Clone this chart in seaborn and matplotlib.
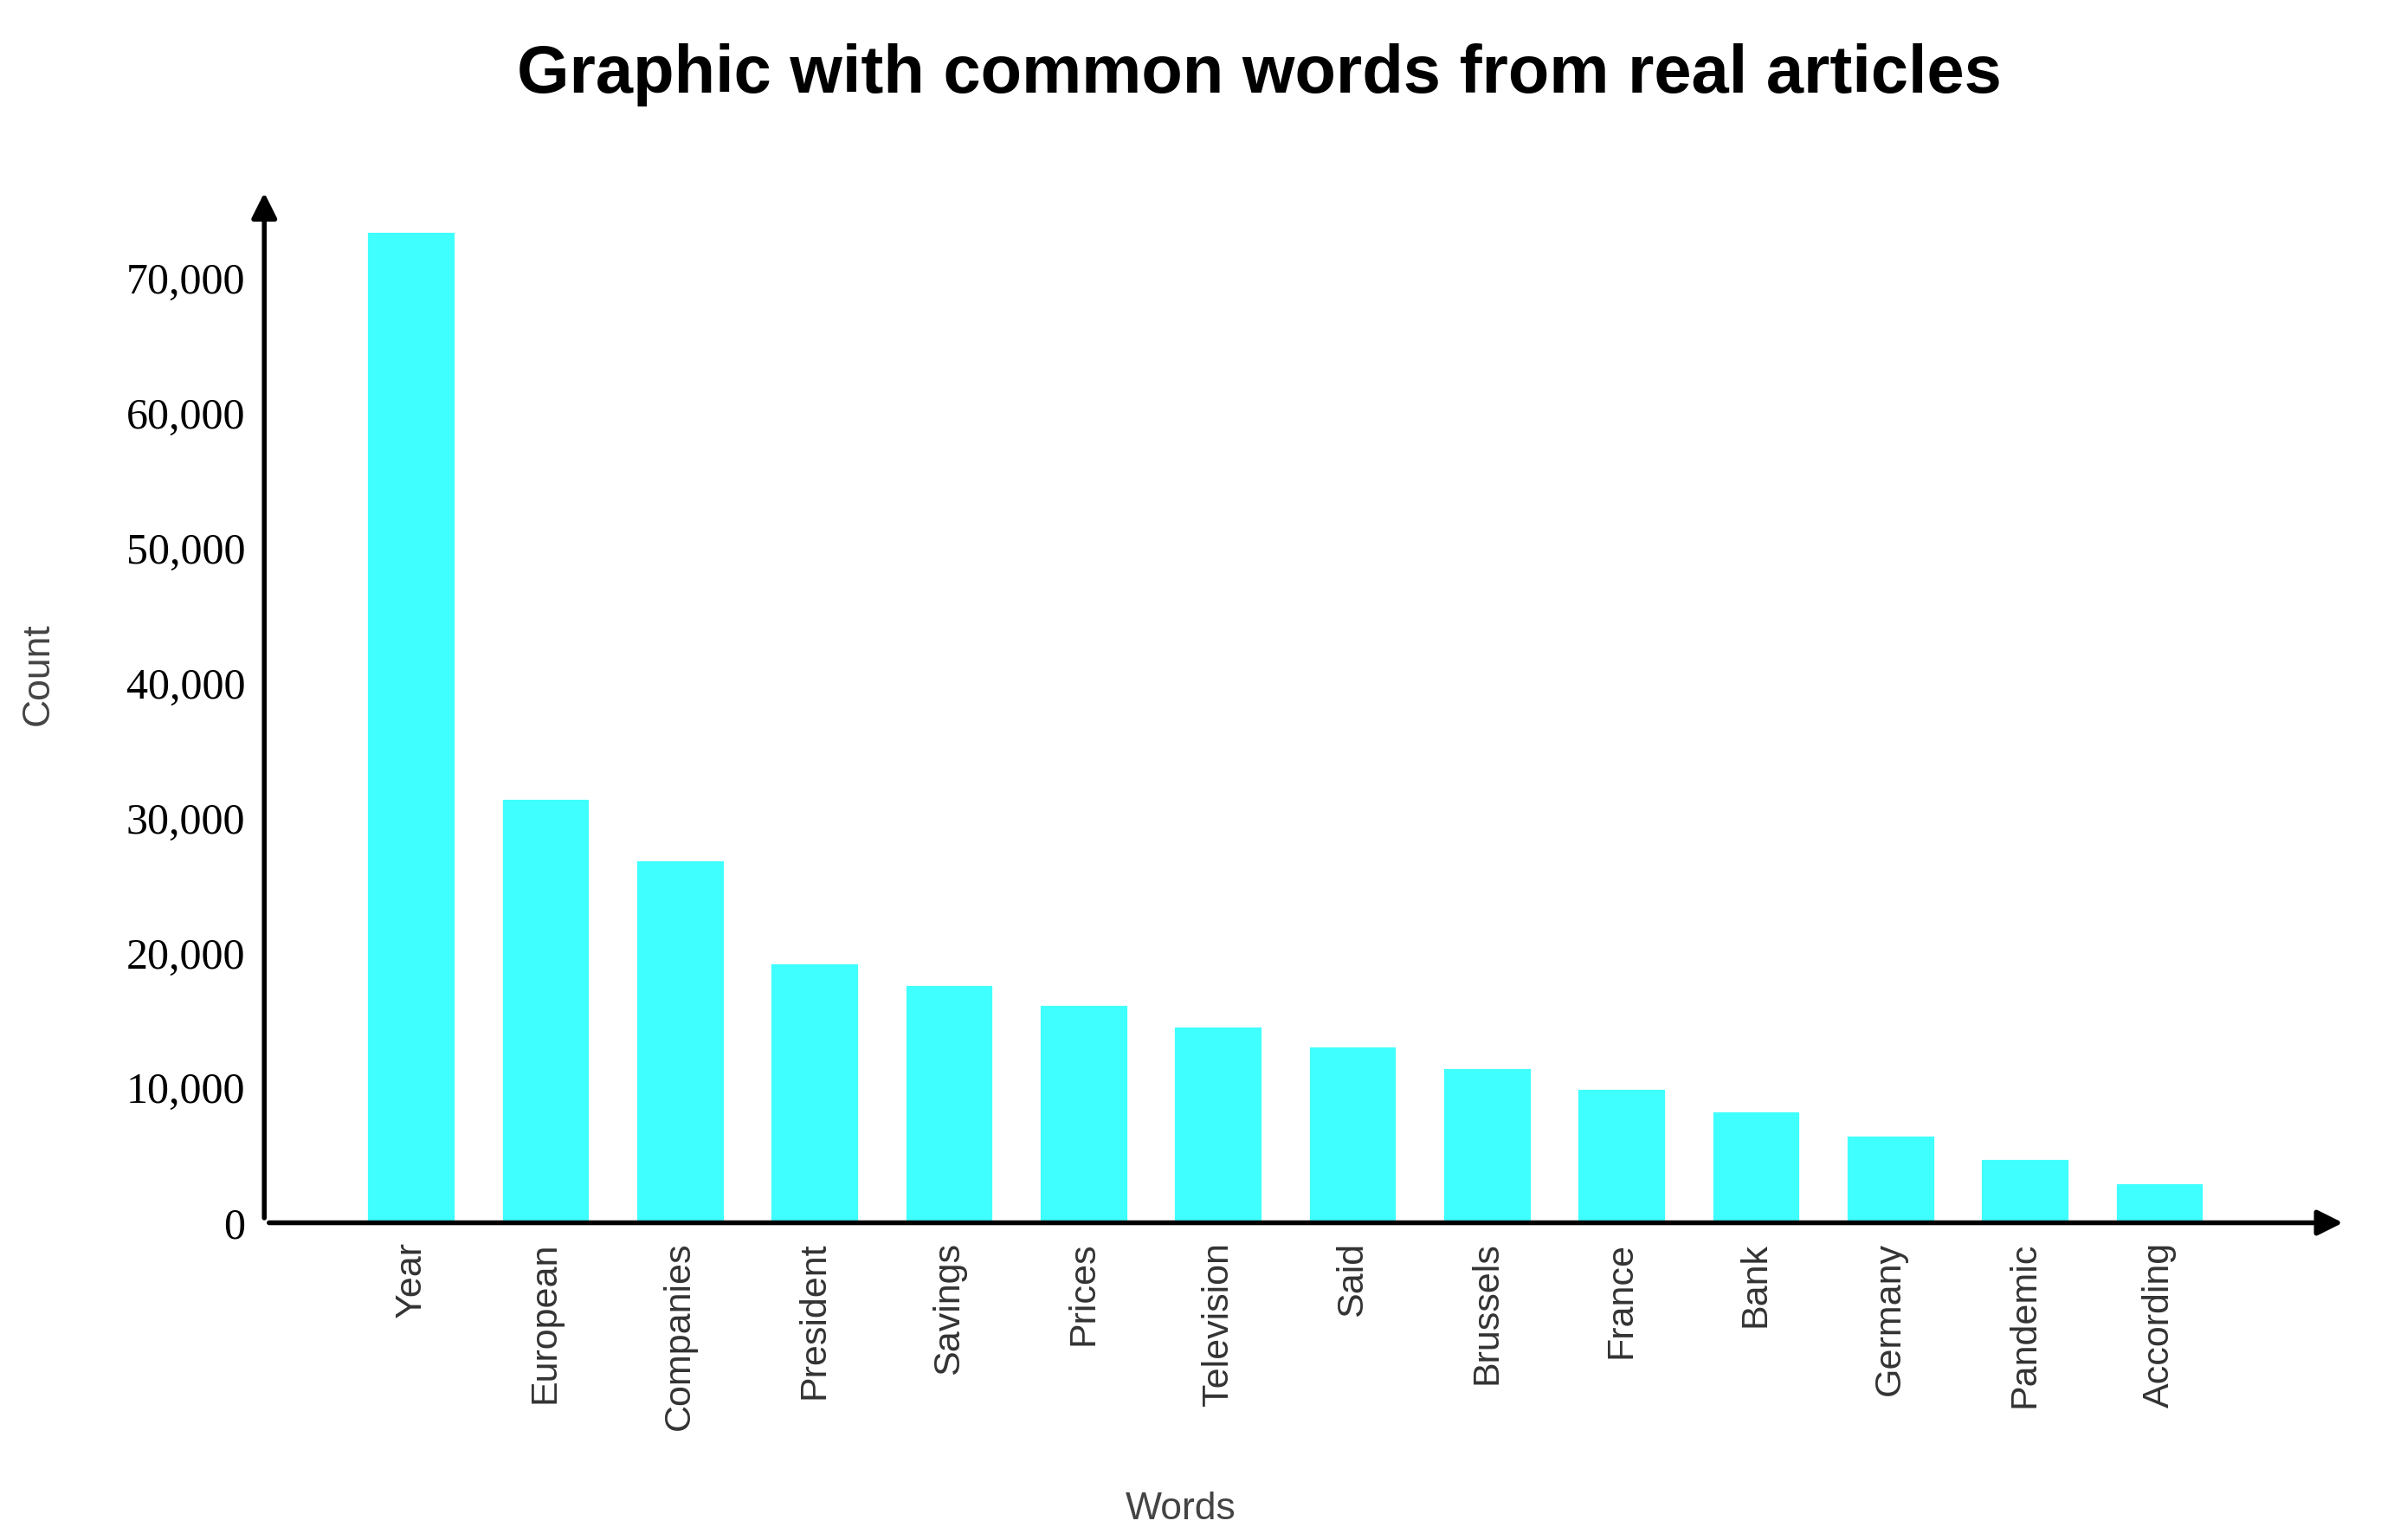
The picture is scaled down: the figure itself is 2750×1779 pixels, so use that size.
import matplotlib
matplotlib.use("Agg")
import matplotlib.pyplot as plt
import seaborn as sns
import pandas as pd

words = ['Year', 'European', 'Companies', 'President', 'Savings', 'Prices', 'Television',
         'Said', 'Brussels', 'France', 'Bank', 'Germany', 'Pandemic', 'According']
counts = [73500, 31500, 26900, 19300, 17700, 16200, 14600, 13100, 11500, 10000, 8300, 6500, 4800, 3000]
yticks = [0, 10000, 20000, 30000, 40000, 50000, 60000, 70000]

df = pd.DataFrame({'word': words, 'count': counts})

sns.set_style('white')
fig = plt.figure(figsize=(13.75, 8.895), dpi=200)
ax = fig.add_axes([0.111, 0.206, 0.875, 0.672])

sns.barplot(x='word', y='count', data=df, color='#40FFFF', saturation=1, width=0.66, ax=ax)

ax.set_xlim(-1.09, 14.4)
ax.set_ylim(0, 76700)
ax.set_yticks(yticks)
ax.set_yticklabels([f'{v:,}' for v in yticks], family='Liberation Serif', fontsize=18, color='black')
ax.set_xticks(range(len(words)))
ax.set_xticklabels(words, rotation=90, family='Liberation Sans', fontsize=15.5, color='#333333')
ax.tick_params(length=0, pad=8)

for s in ax.spines.values():
    s.set_visible(False)
ax.annotate('', xy=(1, 0), xytext=(0, 0), xycoords='axes fraction',
            arrowprops=dict(arrowstyle='-|>', color='black', lw=2, mutation_scale=22))
ax.annotate('', xy=(0, 1), xytext=(0, 0), xycoords='axes fraction',
            arrowprops=dict(arrowstyle='-|>', color='black', lw=2, mutation_scale=22))

ax.set_xlabel('Words', family='Liberation Sans', fontsize=16, color='#444444')
ax.set_ylabel('Count', family='Liberation Sans', fontsize=16, color='#444444')
ax.xaxis.set_label_coords(0.44, -0.26)
ax.yaxis.set_label_coords(-0.1, 0.53)
fig.text(0.529, 0.94, 'Graphic with common words from real articles', ha='center',
         family='Liberation Sans', fontsize=28, fontweight='bold', color='black')

fig.savefig('out.png', dpi=200)
plt.close()
